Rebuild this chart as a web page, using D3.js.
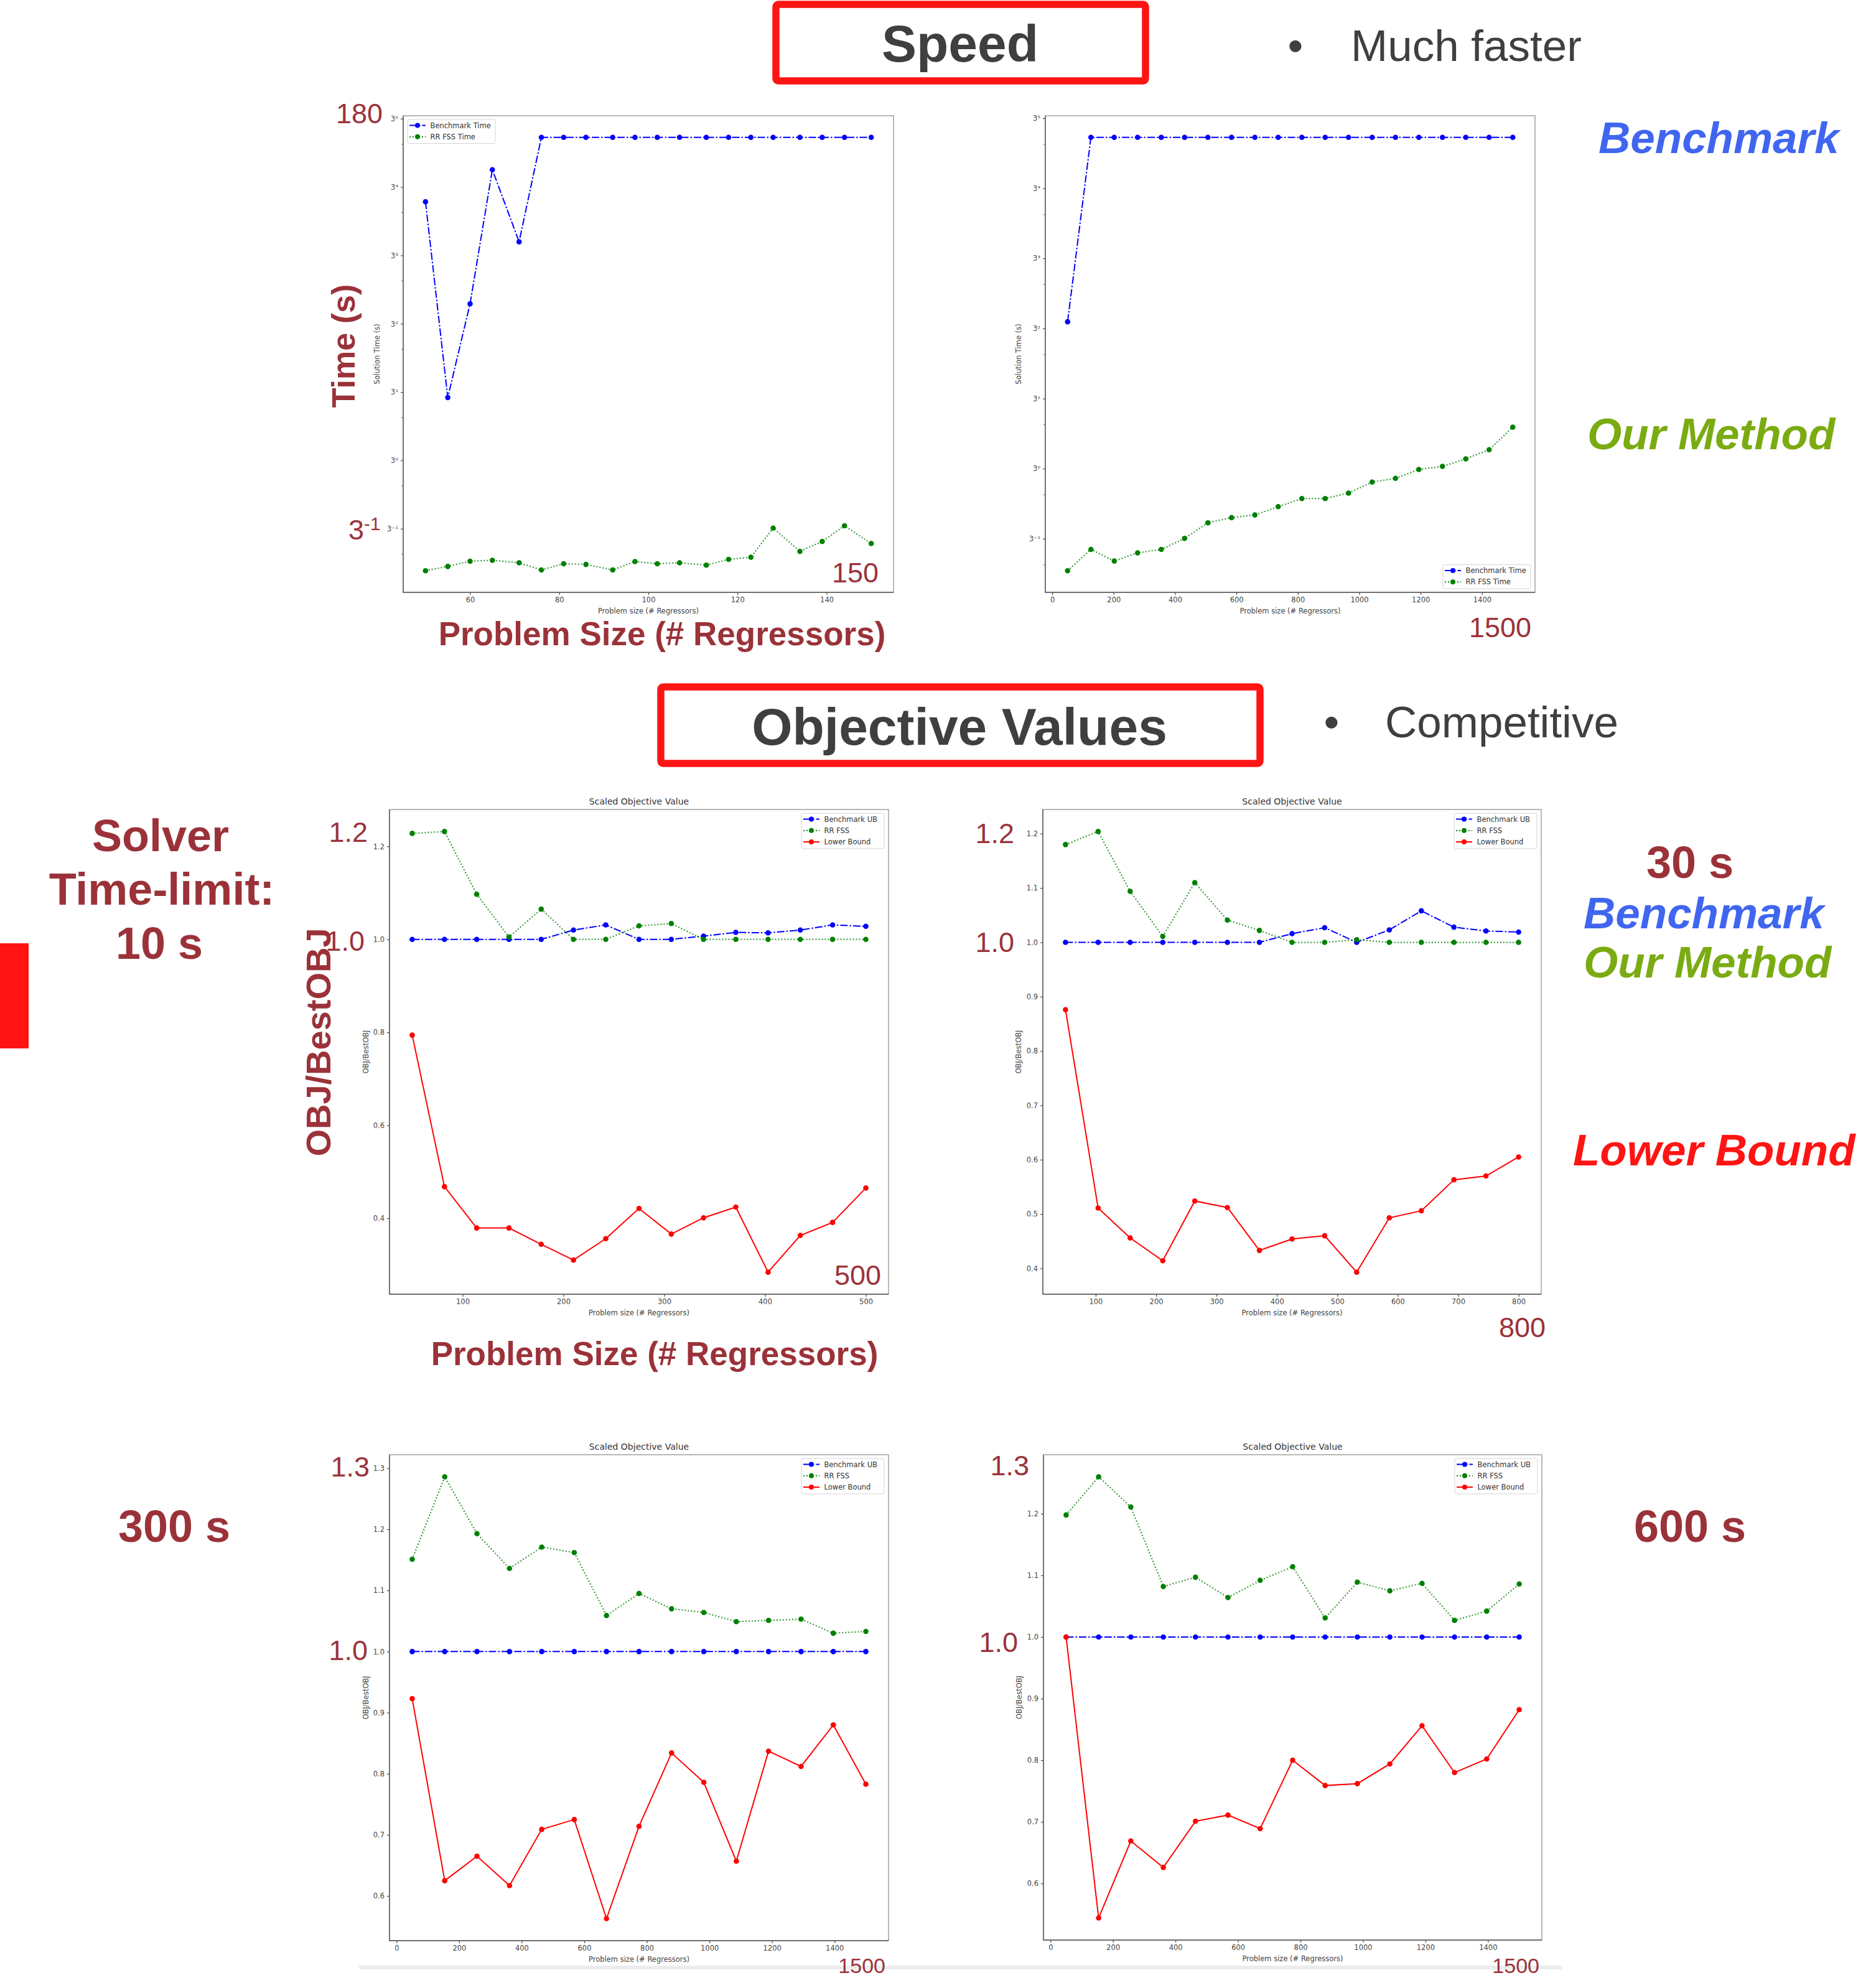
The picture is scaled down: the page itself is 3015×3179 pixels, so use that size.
<!DOCTYPE html>
<html>
<head>
<meta charset="utf-8">
<script src="https://cdn.jsdelivr.net/npm/d3@7"></script>
<style>
  html, body { margin: 0; padding: 0; background: #fff; }
  svg { display: block; }
</style>
</head>
<body>
<svg id="slide" width="3015" height="3179"></svg>
<script>
// ---------------------------------------------------------------
// Data
// ---------------------------------------------------------------

// Speed, sizes 50..150 (solution time in s, 180 s limit)
const speedSizesA = [50, 55, 60, 65, 71, 76, 81, 86, 92, 97, 102, 107, 113, 118, 123, 128, 134, 139, 144, 150]
const speedBenchA = [64, 2.75, 12.4, 107, 33.6, 180, 180, 180, 180, 180, 180, 180, 180, 180, 180, 180, 180, 180, 180, 180]
const speedOursA  = [0.170, 0.182, 0.198, 0.201, 0.193, 0.172, 0.190, 0.188, 0.172, 0.197, 0.190, 0.193, 0.186, 0.204, 0.211, 0.337, 0.232, 0.272, 0.350, 0.263]

// Speed, sizes 50..1500
const speedSizesB = [50, 126, 202, 278, 355, 431, 507, 584, 660, 736, 813, 889, 965, 1042, 1118, 1194, 1271, 1347, 1423, 1500]
const speedBenchB = [10, 180, 180, 180, 180, 180, 180, 180, 180, 180, 180, 180, 180, 180, 180, 180, 180, 180, 180, 180]
const speedOursB  = [0.202, 0.282, 0.235, 0.267, 0.282, 0.335, 0.428, 0.464, 0.484, 0.551, 0.626, 0.626, 0.682, 0.810, 0.859, 0.987, 1.036, 1.165, 1.346, 1.916]

// Objective values, 10 s limit
const objSizes500 = [50, 82, 114, 146, 178, 210, 242, 275, 307, 339, 371, 403, 435, 467, 500]
const objBench10s = [1, 1, 1, 1, 1, 1.020, 1.031, 1, 1, 1.007, 1.015, 1.014, 1.020, 1.031, 1.028]
const objOurs10s  = [1.228, 1.232, 1.097, 1.005, 1.065, 1, 1, 1.029, 1.034, 1, 1, 1, 1, 1, 1]
const objLower10s = [0.794, 0.468, 0.379, 0.379, 0.344, 0.310, 0.356, 0.421, 0.366, 0.401, 0.424, 0.284, 0.363, 0.391, 0.465]

// Objective values, 30 s limit
const objSizes800 = [50, 104, 157, 211, 264, 318, 371, 425, 479, 532, 586, 639, 693, 746, 800]
const objBench30s = [1, 1, 1, 1, 1, 1, 1, 1.016, 1.027, 1, 1.023, 1.058, 1.028, 1.021, 1.019]
const objOurs30s  = [1.180, 1.204, 1.094, 1.011, 1.110, 1.041, 1.022, 1, 1, 1.005, 1, 1, 1, 1, 1]
const objLower30s = [0.876, 0.511, 0.456, 0.414, 0.524, 0.512, 0.433, 0.454, 0.460, 0.393, 0.493, 0.506, 0.563, 0.570, 0.605]

// Objective values, 300 s and 600 s limits
const objSizes1500 = [50, 154, 257, 361, 464, 568, 671, 775, 879, 982, 1086, 1189, 1293, 1396, 1500]
const objBench300s = [1, 1, 1, 1, 1, 1, 1, 1, 1, 1, 1, 1, 1, 1, 1]
const objOurs300s  = [1.151, 1.286, 1.193, 1.136, 1.171, 1.162, 1.059, 1.095, 1.070, 1.064, 1.049, 1.051, 1.053, 1.030, 1.033]
const objLower300s = [0.923, 0.625, 0.665, 0.617, 0.709, 0.725, 0.563, 0.714, 0.834, 0.786, 0.657, 0.837, 0.812, 0.880, 0.783]
const objBench600s = [1, 1, 1, 1, 1, 1, 1, 1, 1, 1, 1, 1, 1, 1, 1]
const objOurs600s  = [1.198, 1.260, 1.211, 1.082, 1.097, 1.064, 1.092, 1.114, 1.031, 1.089, 1.075, 1.087, 1.027, 1.042, 1.086]
const objLower600s = [1.0, 0.544, 0.669, 0.626, 0.701, 0.711, 0.689, 0.800, 0.759, 0.762, 0.794, 0.856, 0.780, 0.802, 0.882]

// Tick values
const speedExpTicks  = [-1, 0, 1, 2, 3, 4, 5]
const speedMinorTicks = [2 / 9, 2 / 3, 2, 6, 18, 54, 162]
const xTicks150  = [60, 80, 100, 120, 140]
const xTicks500  = [100, 200, 300, 400, 500]
const xTicks800  = [100, 200, 300, 400, 500, 600, 700, 800]
const xTicks1500 = [0, 200, 400, 600, 800, 1000, 1200, 1400]
const yTicks10s  = [0.4, 0.6, 0.8, 1.0, 1.2]
const yTicks30s  = [0.4, 0.5, 0.6, 0.7, 0.8, 0.9, 1.0, 1.1, 1.2]
const yTicks300s = [0.6, 0.7, 0.8, 0.9, 1.0, 1.1, 1.2, 1.3]
const yTicks600s = [0.6, 0.7, 0.8, 0.9, 1.0, 1.1, 1.2]

// ---------------------------------------------------------------
// Styles
// ---------------------------------------------------------------
const DARK_RED = '#9b3239'
const SLATE = '#3f3f3f'
const BOX_RED = '#ff1414'
const MPL_FONT = '"DejaVu Sans", sans-serif'
const SLIDE_FONT = '"Liberation Sans", Arial, sans-serif'

const LINE_STYLE = {
    bench: { color: '#0000ff', dash: '12,3,2.5,3' },
    ours:  { color: '#008000', dash: '2,3' },
    lower: { color: '#ff0000', dash: null }
}

const SUP = { '-': '\u207b', '0': '\u2070', '1': '\u00b9', '2': '\u00b2', '3': '\u00b3', '4': '\u2074', '5': '\u2075' }
const supText = n => String(n).split('').map(c => SUP[c]).join('')

const svg = d3.select('#slide')
const root = svg.append('g')

// ---------------------------------------------------------------
// One matplotlib-like panel
// ---------------------------------------------------------------
function drawPanel(p) {
    const { x: bx, y: by, w, h } = p.box
    const g = root.append('g').attr('transform', `translate(${bx},${by})`)

    const [xMin, xMax] = d3.extent(p.sizes)
    const xPad = (xMax - xMin) * 0.05
    const x = d3.scaleLinear().domain([xMin - xPad, xMax + xPad]).range([0, w])

    const allY = p.series.flatMap(s => s.values)
    let y
    if (p.logBase) {
        const lg = v => Math.log(v) / Math.log(p.logBase)
        const lo = lg(d3.min(allY)), hi = lg(d3.max(allY))
        const pad = (hi - lo) * 0.05
        y = d3.scaleLog().base(p.logBase)
            .domain([p.logBase ** (lo - pad), p.logBase ** (hi + pad)])
            .range([h, 0])
    } else {
        const [lo, hi] = d3.extent(allY)
        const pad = (hi - lo) * 0.05
        y = d3.scaleLinear().domain([lo - pad, hi + pad]).range([h, 0])
    }

    // axes
    const styleAxis = sel => {
        sel.select('.domain').remove()
        sel.selectAll('line').attr('stroke', '#444').attr('stroke-width', 1.2)
        sel.selectAll('text')
            .attr('font-family', MPL_FONT)
            .attr('font-size', 11.5)
            .attr('fill', '#444')
    }

    g.append('g')
        .attr('transform', `translate(0,${h})`)
        .call(d3.axisBottom(x).tickValues(p.xTicks).tickSize(4).tickPadding(4).tickFormat(d3.format('d')))
        .call(styleAxis)

    if (p.logBase) {
        g.append('g')
            .call(d3.axisLeft(y).tickValues(p.yTicks.map(e => p.logBase ** e)).tickSize(4).tickPadding(4)
                .tickFormat(v => p.logBase + supText(Math.round(Math.log(v) / Math.log(p.logBase)))))
            .call(styleAxis)
        g.append('g')
            .call(d3.axisLeft(y).tickValues(p.minorTicks).tickSize(2.5).tickFormat(''))
            .call(styleAxis)
    } else {
        g.append('g')
            .call(d3.axisLeft(y).tickValues(p.yTicks).tickSize(4).tickPadding(4).tickFormat(d3.format('.1f')))
            .call(styleAxis)
    }

    // spines
    g.append('rect')
        .attr('width', w).attr('height', h)
        .attr('fill', 'none').attr('stroke', '#9a9a9a').attr('stroke-width', 1.4)
    g.append('path')
        .attr('d', `M0,0V${h}H${w}`)
        .attr('fill', 'none').attr('stroke', '#555').attr('stroke-width', 1.4)

    // series
    for (const s of p.series) {
        const st = LINE_STYLE[s.kind]
        const pts = p.sizes.map((v, i) => [x(v), y(s.values[i])])
        g.append('path')
            .attr('d', d3.line()(pts))
            .attr('fill', 'none')
            .attr('stroke', st.color)
            .attr('stroke-width', s.kind === 'ours' ? 2.2 : 2)
            .attr('stroke-dasharray', st.dash)
            .attr('opacity', s.kind === 'ours' ? 0.8 : 1)
        g.selectAll(null).data(pts).enter().append('circle')
            .attr('cx', d => d[0]).attr('cy', d => d[1])
            .attr('r', 4.3)
            .attr('fill', st.color)
    }

    // legend
    const lw = p.legendW, lh = p.series.length * 18.3 + 2
    const lx = p.legendAt.includes('left') ? 7 : w - lw - 7
    const ly = p.legendAt.includes('upper') ? 6 : h - lh - 6
    const lg = g.append('g').attr('transform', `translate(${lx},${ly})`)
    lg.append('rect')
        .attr('width', lw).attr('height', lh).attr('rx', 3)
        .attr('fill', '#fff').attr('fill-opacity', 0.85)
        .attr('stroke', '#d4d4d4').attr('stroke-width', 1)
    p.series.forEach((s, i) => {
        const st = LINE_STYLE[s.kind]
        const cy = 9.5 + i * 18.3
        lg.append('line')
            .attr('x1', 3).attr('x2', 29).attr('y1', cy).attr('y2', cy)
            .attr('stroke', st.color).attr('stroke-width', 2)
            .attr('stroke-dasharray', st.dash)
        lg.append('circle').attr('cx', 16).attr('cy', cy).attr('r', 4).attr('fill', st.color)
        lg.append('text')
            .attr('x', 36.5).attr('y', cy).attr('dy', '0.35em')
            .attr('font-family', MPL_FONT).attr('font-size', 11.5).attr('fill', '#333')
            .text(s.name)
    })

    // title and axis labels
    if (p.title) {
        g.append('text')
            .attr('x', w / 2).attr('y', -12.5).attr('dy', '0.35em')
            .attr('text-anchor', 'middle')
            .attr('font-family', MPL_FONT).attr('font-size', 14).attr('fill', '#333')
            .text(p.title)
    }
    g.append('text')
        .attr('x', w / 2).attr('y', h + 30).attr('dy', '0.35em')
        .attr('text-anchor', 'middle')
        .attr('font-family', MPL_FONT).attr('font-size', 11.5).attr('fill', '#444')
        .text('Problem size (# Regressors)')
    g.append('text')
        .attr('transform', `translate(${p.yLabelDx},${h / 2}) rotate(-90)`)
        .attr('dy', '0.35em')
        .attr('text-anchor', 'middle')
        .attr('font-family', MPL_FONT).attr('font-size', 11.5).attr('fill', '#444')
        .text(p.yLabel)
}

const speedSeries = (bench, ours) => [
    { name: 'Benchmark Time', kind: 'bench', values: bench },
    { name: 'RR FSS Time', kind: 'ours', values: ours }
]
const objSeries = (bench, ours, lower) => [
    { name: 'Benchmark UB', kind: 'bench', values: bench },
    { name: 'RR FSS', kind: 'ours', values: ours },
    { name: 'Lower Bound', kind: 'lower', values: lower }
]

const panels = [
    { box: { x: 648, y: 186, w: 788, h: 766 }, sizes: speedSizesA, series: speedSeries(speedBenchA, speedOursA),
      logBase: 3, yTicks: speedExpTicks, minorTicks: speedMinorTicks, xTicks: xTicks150,
      legendAt: 'upper left', legendW: 141, yLabel: 'Solution Time (s)', yLabelDx: -42 },
    { box: { x: 1680, y: 186, w: 787, h: 766 }, sizes: speedSizesB, series: speedSeries(speedBenchB, speedOursB),
      logBase: 3, yTicks: speedExpTicks, minorTicks: speedMinorTicks, xTicks: xTicks1500,
      legendAt: 'lower right', legendW: 141, yLabel: 'Solution Time (s)', yLabelDx: -43 },
    { box: { x: 626, y: 1301, w: 802, h: 779 }, sizes: objSizes500, series: objSeries(objBench10s, objOurs10s, objLower10s),
      yTicks: yTicks10s, xTicks: xTicks500, legendAt: 'upper right', legendW: 133,
      title: 'Scaled Objective Value', yLabel: 'OBJ/BestOBJ', yLabelDx: -38 },
    { box: { x: 1676, y: 1301, w: 801, h: 779 }, sizes: objSizes800, series: objSeries(objBench30s, objOurs30s, objLower30s),
      yTicks: yTicks30s, xTicks: xTicks800, legendAt: 'upper right', legendW: 133,
      title: 'Scaled Objective Value', yLabel: 'OBJ/BestOBJ', yLabelDx: -39 },
    { box: { x: 626, y: 2338, w: 802, h: 781 }, sizes: objSizes1500, series: objSeries(objBench300s, objOurs300s, objLower300s),
      yTicks: yTicks300s, xTicks: xTicks1500, legendAt: 'upper right', legendW: 133,
      title: 'Scaled Objective Value', yLabel: 'OBJ/BestOBJ', yLabelDx: -38 },
    { box: { x: 1677, y: 2338, w: 801, h: 780 }, sizes: objSizes1500, series: objSeries(objBench600s, objOurs600s, objLower600s),
      yTicks: yTicks600s, xTicks: xTicks1500, legendAt: 'upper right', legendW: 133,
      title: 'Scaled Objective Value', yLabel: 'OBJ/BestOBJ', yLabelDx: -39 }
]

panels.forEach(drawPanel)

// ---------------------------------------------------------------
// Slide decorations: header boxes, bar, annotations
// ---------------------------------------------------------------
const boxes = [
    { x: 1247, y: 7, w: 594, h: 123 },
    { x: 1062, y: 1104, w: 963, h: 123 }
]
root.selectAll(null).data(boxes).enter().append('rect')
    .attr('x', d => d.x).attr('y', d => d.y)
    .attr('width', d => d.w).attr('height', d => d.h)
    .attr('rx', 4)
    .attr('fill', 'none').attr('stroke', BOX_RED).attr('stroke-width', 11.5)

root.append('rect').attr('x', 0).attr('y', 1516).attr('width', 46).attr('height', 169).attr('fill', BOX_RED)
root.append('rect').attr('x', 577).attr('y', 3159).attr('width', 1933).attr('height', 6).attr('fill', '#ececec')

const BLUE_TXT = '#4066f0', GREEN_TXT = '#7aab12', RED_TXT = '#ff1414'
const notes = [
    // headers
    { t: 'Speed', x: 1543, y: 99, size: 84, bold: true, fill: SLATE, anchor: 'middle' },
    { t: '\u2022', x: 2082, y: 98, size: 71, fill: SLATE, anchor: 'middle' },
    { t: 'Much faster', x: 2171, y: 98, size: 71, fill: SLATE },
    { t: 'Objective Values', x: 1542, y: 1197, size: 84, bold: true, fill: SLATE, anchor: 'middle' },
    { t: '\u2022', x: 2140, y: 1185, size: 71, fill: SLATE, anchor: 'middle' },
    { t: 'Competitive', x: 2226, y: 1185, size: 71, fill: SLATE },

    // speed annotations
    { t: 'Time (s)', x: 570, y: 556, size: 52, bold: true, fill: DARK_RED, anchor: 'middle', rotate: -90 },
    { t: 'Problem Size (# Regressors)', x: 1064, y: 1037, size: 53, bold: true, fill: DARK_RED, anchor: 'middle' },
    { t: '180', x: 615, y: 198, size: 45, fill: DARK_RED, anchor: 'end' },
    { t: '3', sup: '-1', x: 560, y: 867, size: 45, fill: DARK_RED },
    { t: '150', x: 1412, y: 936, size: 45, fill: DARK_RED, anchor: 'end' },
    { t: '1500', x: 2461, y: 1024, size: 45, fill: DARK_RED, anchor: 'end' },
    { t: 'Benchmark', x: 2569, y: 246, size: 71, bold: true, italic: true, fill: BLUE_TXT },
    { t: 'Our Method', x: 2551, y: 722, size: 71, bold: true, italic: true, fill: GREEN_TXT },

    // objective annotations
    { t: 'Solver', x: 258, y: 1368, size: 72, bold: true, fill: DARK_RED, anchor: 'middle' },
    { t: 'Time-limit:', x: 260, y: 1454, size: 72, bold: true, fill: DARK_RED, anchor: 'middle' },
    { t: '10 s', x: 256, y: 1541, size: 72, bold: true, fill: DARK_RED, anchor: 'middle' },
    { t: 'OBJ/BestOBJ', x: 531, y: 1675, size: 56, bold: true, fill: DARK_RED, anchor: 'middle', rotate: -90 },
    { t: '1.2', x: 591, y: 1353, size: 45, fill: DARK_RED, anchor: 'end' },
    { t: '1.0', x: 586, y: 1528, size: 45, fill: DARK_RED, anchor: 'end' },
    { t: '500', x: 1416, y: 2065, size: 45, fill: DARK_RED, anchor: 'end' },
    { t: 'Problem Size (# Regressors)', x: 1052, y: 2194, size: 53, bold: true, fill: DARK_RED, anchor: 'middle' },
    { t: '1.2', x: 1630, y: 1355, size: 45, fill: DARK_RED, anchor: 'end' },
    { t: '1.0', x: 1630, y: 1530, size: 45, fill: DARK_RED, anchor: 'end' },
    { t: '800', x: 2484, y: 2149, size: 45, fill: DARK_RED, anchor: 'end' },
    { t: '30 s', x: 2716, y: 1411, size: 72, bold: true, fill: DARK_RED, anchor: 'middle' },
    { t: 'Benchmark', x: 2545, y: 1492, size: 71, bold: true, italic: true, fill: BLUE_TXT },
    { t: 'Our Method', x: 2545, y: 1571, size: 71, bold: true, italic: true, fill: GREEN_TXT },
    { t: 'Lower Bound', x: 2528, y: 1873, size: 71, bold: true, italic: true, fill: RED_TXT },

    { t: '300 s', x: 280, y: 2478, size: 72, bold: true, fill: DARK_RED, anchor: 'middle' },
    { t: '600 s', x: 2716, y: 2478, size: 72, bold: true, fill: DARK_RED, anchor: 'middle' },
    { t: '1.3', x: 594, y: 2373, size: 45, fill: DARK_RED, anchor: 'end' },
    { t: '1.0', x: 591, y: 2668, size: 45, fill: DARK_RED, anchor: 'end' },
    { t: '1.3', x: 1654, y: 2371, size: 45, fill: DARK_RED, anchor: 'end' },
    { t: '1.0', x: 1636, y: 2655, size: 45, fill: DARK_RED, anchor: 'end' },
    // these two sit against the bottom edge, cropped in the original slide
    { t: '1500', x: 1423, y: 3171, size: 34, fill: DARK_RED, anchor: 'end' },
    { t: '1500', x: 2474, y: 3171, size: 34, fill: DARK_RED, anchor: 'end' }
]

for (const n of notes) {
    const t = root.append('text')
        .attr('transform', `translate(${n.x},${n.y})` + (n.rotate ? ` rotate(${n.rotate})` : ''))
        .attr('text-anchor', n.anchor || 'start')
        .attr('font-family', SLIDE_FONT)
        .attr('font-size', n.size)
        .attr('font-weight', n.bold ? 'bold' : 'normal')
        .attr('font-style', n.italic ? 'italic' : 'normal')
        .attr('fill', n.fill)
        .text(n.t)
    if (n.sup) {
        t.append('tspan').attr('dy', -15).attr('font-size', n.size * 0.66).text(n.sup)
    }
}
</script>
</body>
</html>
